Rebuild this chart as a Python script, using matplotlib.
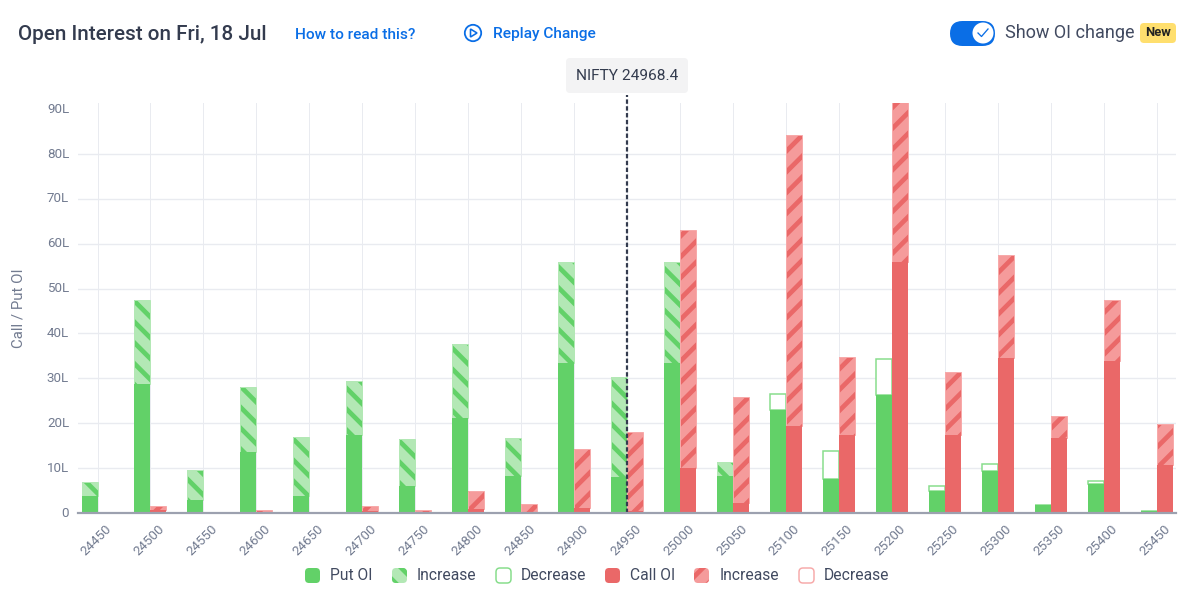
import matplotlib
matplotlib.use("Agg")
import matplotlib.pyplot as plt
from matplotlib.patches import FancyBboxPatch, Circle, Polygon
from matplotlib.transforms import ScaledTranslation

W, H, DPI = 1193, 591, 125
plt.rcParams['font.family'] = ['Roboto', 'DejaVu Sans']
plt.rcParams['hatch.linewidth'] = 2.7

strikes = [24450, 24500, 24550, 24600, 24650, 24700, 24750, 24800, 24850, 24900, 24950,
           25000, 25050, 25100, 25150, 25200, 25250, 25300, 25350, 25400, 25450]
put_oi = [3.7, 28.7, 2.8, 13.5, 3.7, 17.3, 6.0, 21.2, 8.2, 33.3, 8.0,
          33.3, 8.3, 23.0, 7.6, 26.2, 4.8, 9.3, 1.8, 6.5, 0.5]
put_increase = [3.3, 18.7, 6.7, 14.5, 13.3, 12.1, 10.5, 16.4, 8.4, 22.5, 22.3,
                22.5, 3.0, 0, 0, 0, 0, 0, 0, 0, 0]
put_decrease = [0, 0, 0, 0, 0, 0, 0, 0, 0, 0, 0,
                0, 0, 3.6, 6.2, 8.0, 1.2, 1.7, 0, 0.7, 0]
call_oi = [0, 0.6, 0, 0.2, 0, 0.5, 0.2, 1.0, 0.3, 1.2, 0.4,
           10.0, 2.3, 19.3, 17.3, 56.0, 17.3, 34.5, 16.8, 33.8, 10.7]
call_increase = [0, 0.9, 0, 0.4, 0, 1.0, 0.4, 3.8, 1.8, 13.0, 17.7,
                 53.0, 23.5, 64.9, 17.5, 36.0, 14.0, 22.9, 4.8, 13.6, 9.1]
call_decrease = [0] * 21
y_ticks = [0, 10, 20, 30, 40, 50, 60, 70, 80, 90]
y_grid = [10, 20, 30, 40, 50, 60, 70, 80]
spot_label = "NIFTY 24968.4"
spot_strike = 24950

GREEN, GREEN_L, GREEN_E = '#62d168', '#b3e8b5', '#86dd8b'
RED, RED_L, RED_E = '#ea6868', '#f59b9b', '#f7aaaa'
GRID, AXIS = '#e9ebf0', '#9ca1af'
DARK, MID, TICK, BLUE = '#333b4e', '#414a60', '#727b90', '#0a6ee6'


def px(v):
    return v * 72 / DPI


fig = plt.figure(figsize=(W / DPI, H / DPI), dpi=DPI, facecolor='white')
L, R, T, B = 78, 1176, 103, 513
ax = fig.add_axes([L / W, 1 - B / H, (R - L) / W, (B - T) / H])
step = 52.95
x0 = 97.5
ax.set_xlim((L - x0) / step, (R - x0) / step)
ax.set_ylim(0, (B - T) / 44.9 * 10)

xs = list(range(len(strikes)))
bw = 16 / step
gx = [i - bw / 2 for i in xs]
rx = [i + bw / 2 for i in xs]

for y in y_grid:
    ax.axhline(y, color=GRID, lw=px(1.4), zorder=0)
for i in xs:
    ax.axvline(i, color=GRID, lw=px(1), zorder=0)

# decrease (hollow)
ax.bar(gx, put_decrease, bw, bottom=put_oi, facecolor='white', edgecolor=GREEN_E, linewidth=px(1.5), zorder=2)
ax.bar(rx, call_decrease, bw, bottom=call_oi, facecolor='white', edgecolor=RED_E, linewidth=px(1.5), zorder=2)
# increase (striped)
ax.bar(gx, put_increase, bw, bottom=put_oi, facecolor=GREEN_L, edgecolor=GREEN, hatch='\\\\', linewidth=0, zorder=2)
ax.bar(rx, call_increase, bw, bottom=call_oi, facecolor=RED_L, edgecolor=RED, hatch='//', linewidth=0, zorder=2)
ax.bar(gx, put_increase, bw, bottom=put_oi, facecolor='none', edgecolor=GREEN_L, linewidth=px(1), zorder=2.5)
ax.bar(rx, call_increase, bw, bottom=call_oi, facecolor='none', edgecolor=RED_E, linewidth=px(1), zorder=2.5)
# base
ax.bar(gx, put_oi, bw, facecolor=GREEN, edgecolor='none', zorder=3)
ax.bar(rx, call_oi, bw, facecolor=RED, edgecolor='none', zorder=3)

ax.plot([strikes.index(spot_strike)] * 2, [0, 1.02], transform=ax.get_xaxis_transform(),
        color=DARK, lw=px(2.2), dashes=(2.0, 1.1), clip_on=False, zorder=5)

for s in ['top', 'left', 'right']:
    ax.spines[s].set_visible(False)
ax.spines['bottom'].set_color(AXIS)
ax.spines['bottom'].set_linewidth(px(2.2))
ax.spines['bottom'].set_zorder(6)
ax.set_xticks(xs, [str(s) for s in strikes], rotation=45, ha='center', va='top',
              fontsize=px(13.4), color=TICK)
ax.set_yticks(y_ticks, ['0' if v == 0 else f'{v}L' for v in y_ticks], fontsize=px(13.4), color=TICK)
ax.tick_params(axis='both', length=0)
ax.tick_params(axis='x', pad=px(9))
ax.tick_params(axis='y', pad=px(9))
shift_x = ScaledTranslation(-1.2 / DPI, 0, fig.dpi_scale_trans)
for lab in ax.get_xticklabels():
    lab.set_transform(lab.get_transform() + shift_x)
shift_y = ScaledTranslation(0, 1.3 / DPI, fig.dpi_scale_trans)
for lab in ax.get_yticklabels():
    lab.set_transform(lab.get_transform() + shift_y)
ax.set_ylabel('Call / Put OI', fontsize=px(15), color=TICK)
ax.yaxis.set_label_coords(25.5 / W, 1 - 308 / H, transform=fig.transFigure)

# page furniture in pixel coordinates
ov = fig.add_axes([0, 0, 1, 1], zorder=10)
ov.set_xlim(0, W)
ov.set_ylim(H, 0)
ov.axis('off')
ov.patch.set_alpha(0)


def rbox(x, y, w, h, r, **kw):
    p = FancyBboxPatch((x + r, y + r), w - 2 * r, h - 2 * r, boxstyle=f'round,pad={r},rounding_size={r}', **kw)
    ov.add_patch(p)
    return p


ov.text(18, 34.5, 'Open Interest on Fri, 18 Jul', fontsize=px(20.6), color=DARK, fontweight='medium', va='center')
ov.text(295, 35, 'How to read this?', fontsize=px(15.4), color=BLUE, fontweight='medium', va='center')
ov.text(493, 34, 'Replay Change', fontsize=px(15.5), color=BLUE, fontweight='medium', va='center')
ov.add_patch(Circle((473, 33), 8.2, facecolor='none', edgecolor=BLUE, lw=px(1.8)))
ov.add_patch(Polygon([(470.5, 29), (470.5, 37), (477, 33)], closed=True, facecolor='none', edgecolor=BLUE, lw=px(1.6)))

rbox(566, 58, 122, 35, 4, facecolor='#f3f3f4', edgecolor='none')
ov.text(627, 76.5, spot_label, fontsize=px(15.5), color=DARK, ha='center', va='center')

rbox(950, 21, 45, 25, 12.5, facecolor=BLUE, edgecolor='none')
ov.add_patch(Circle((983, 33), 10.5, facecolor='white', edgecolor='none'))
ov.plot([978, 981.5, 988], [33, 36.5, 29], color=BLUE, lw=px(1.3))
ov.text(1005, 33, 'Show OI change', fontsize=px(18), color=MID, va='center')
rbox(1140, 23, 36, 20, 4, facecolor='#ffdf6e', edgecolor='none')
ov.text(1158, 32.5, 'New', fontsize=px(13), color='#222222', fontweight='bold', ha='center', va='center')

items = [(305, 330, 'Put OI', dict(facecolor=GREEN, edgecolor='none')),
         (392, 417, 'Increase', dict(facecolor=GREEN_L, edgecolor=GREEN, hatch='\\\\', linewidth=0)),
         (496, 521, 'Decrease', dict(facecolor='white', edgecolor=GREEN_E, linewidth=px(1.5))),
         (605, 630, 'Call OI', dict(facecolor=RED, edgecolor='none')),
         (694, 720, 'Increase', dict(facecolor=RED_L, edgecolor=RED, hatch='//', linewidth=0)),
         (799, 824, 'Decrease', dict(facecolor='white', edgecolor=RED_E, linewidth=px(1.5)))]
for mx, tx, lab, st in items:
    rbox(mx, 568, 15, 15, 4, **st)
    ov.text(tx, 575.5, lab, fontsize=px(15.6), color=MID, va='center')

fig.savefig('out.png', dpi=DPI, facecolor='white')
